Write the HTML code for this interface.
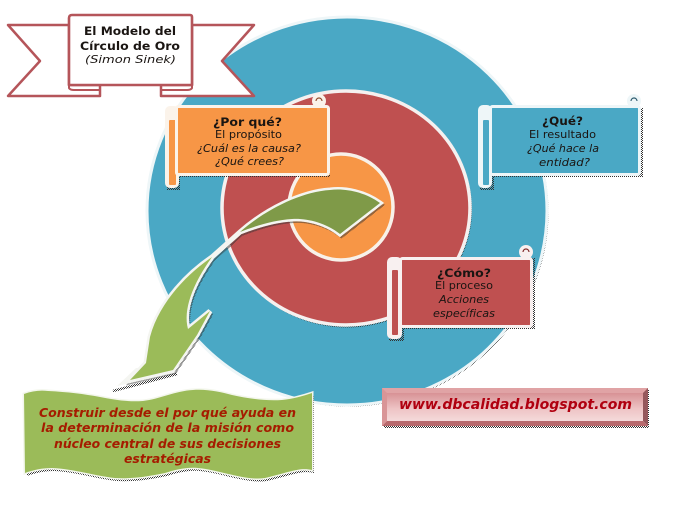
<!DOCTYPE html>
<html lang="es">
<head>
<meta charset="utf-8">
<title>El Modelo del Círculo de Oro</title>
<style>
html,body{margin:0;padding:0;background:#fff;width:679px;height:509px;overflow:hidden}
svg{display:block}
text{font-family:"DejaVu Sans","Liberation Sans",sans-serif;text-anchor:start;fill:#1a1512}
.h{font-weight:bold;font-size:11.5px}
.n{font-size:11px}
.i{font-size:11px;font-style:italic}
.g{font-weight:bold;font-style:italic;font-size:12px;fill:#a51c00}
</style>
</head>
<body>
<svg width="679" height="509" viewBox="0 0 679 509" xmlns="http://www.w3.org/2000/svg">
<defs>
<pattern id="ch" width="2" height="2" patternUnits="userSpaceOnUse">
<rect width="1" height="1" fill="#333"/>
<rect x="1" y="1" width="1" height="1" fill="#333"/>
</pattern>
<linearGradient id="u" x1="0" y1="0" x2="0" y2="1">
<stop offset="0" stop-color="#d08286"/>
<stop offset=".55" stop-color="#eec4c5"/>
<stop offset="1" stop-color="#f7e3e3"/>
</linearGradient>
<path id="arrow" d="M380 203C365 192 345 188 330 190C300 192 265 210 240 232L212 257C190 272 160 300 150 337L146 363L130 380L173 370L197 335L210 311L188 329C183 310 192 285 212 257L240 232C258 225 275 220 292 219C305 218 325 222 340 234Z"/>
<path id="wave" d="M24 394C32 391 40 390 48 391C68 392 84 394 100 397C115 400 128 402 143 401C160 399 175 391 193 390C208 389 220 392 232 395C250 399 266 401 282 400C293 399 303 396 312 393L312 470C300 467 290 472 265 478C245 481 220 470 198 468C185 467 175 470 165 473C150 476 135 479 115 478C95 476 75 469 52 468C42 468 33 470 25 473Z"/>
</defs>

<!-- Target circles -->
<ellipse cx="348.500" cy="212.500" rx="200" ry="194" fill="url(#ch)"/>
<ellipse cx="347" cy="211" rx="200" ry="194" fill="#4aa8c5" stroke="#eef6f8" stroke-width="3"/>
<ellipse cx="347" cy="209.500" rx="125" ry="118" fill="url(#ch)"/>
<ellipse cx="346" cy="208" rx="124" ry="117" fill="#bf5050" stroke="#f5f0ef" stroke-width="3.500"/>
<ellipse cx="342" cy="208.500" rx="52" ry="53" fill="url(#ch)"/>
<ellipse cx="341" cy="207" rx="52" ry="53" fill="#f79646" stroke="#f8f1e9" stroke-width="3.500"/>

<!-- Ribbon banner -->
<path d="M69 25H8L40 61L8 96H100V85H69Z" fill="#fff" stroke="#b5555a" stroke-width="2.500" stroke-linejoin="round"/>
<path d="M192 25H254L222 61L254 96H161V85H192Z" fill="#fff" stroke="#b5555a" stroke-width="2.500" stroke-linejoin="round"/>
<path d="M69 85V88Q70 90 74 90H100" fill="none" stroke="#b5555a" stroke-width="2"/>
<path d="M192 85V88Q191 90 187 90H161" fill="none" stroke="#b5555a" stroke-width="2"/>
<path d="M72 15H190Q192 15 192 17V85H69V18Q69 15 72 15Z" fill="#fff" stroke="#b5555a" stroke-width="2.600" stroke-linejoin="round"/>
<text class="h" x="84" y="35" textLength="92" lengthAdjust="spacingAndGlyphs">El Modelo del</text>
<text class="h" x="80" y="50" textLength="100" lengthAdjust="spacingAndGlyphs">Círculo de Oro</text>
<text class="i" x="85" y="63" textLength="91" lengthAdjust="spacingAndGlyphs">(Simon Sinek)</text>

<!-- Por qué scroll -->
<g>
<path d="M167 190H180V177H330V108L167 108Z" fill="url(#ch)"/>
<rect x="165" y="106" width="14" height="82" rx="5" fill="#fbf3ea"/>
<rect x="169" y="120" width="7" height="65" rx="1" fill="#f79646"/>
<circle cx="319" cy="101" r="7" fill="#fbf3ea"/>
<path d="M316 101a3 3 0 0 1 6 0" fill="none" stroke="#8f4a2b" stroke-width="1.200"/>
<rect x="176.500" y="106.500" width="152" height="68" rx="2" fill="#f79646" stroke="#fbf3ea" stroke-width="3"/>
</g>
<text class="h" x="213" y="126" textLength="69" lengthAdjust="spacingAndGlyphs">¿Por qué?</text>
<text class="n" x="215" y="138" textLength="67" lengthAdjust="spacingAndGlyphs">El propósito</text>
<text class="i" x="197" y="152" textLength="104" lengthAdjust="spacingAndGlyphs">¿Cuál es la causa?</text>
<text class="i" x="215" y="165" textLength="69" lengthAdjust="spacingAndGlyphs">¿Qué crees?</text>

<!-- Qué scroll -->
<g>
<path d="M480 190H494V177H643V108L480 108Z" fill="url(#ch)"/>
<rect x="478" y="105" width="14" height="83" rx="5" fill="#eef6f8"/>
<rect x="483" y="120" width="6" height="65" rx="1" fill="#4aa8c5"/>
<circle cx="634" cy="101" r="7" fill="#eef6f8"/>
<path d="M631 101a3 3 0 0 1 6 0" fill="none" stroke="#2f5d70" stroke-width="1.200"/>
<rect x="490.500" y="106.500" width="149" height="68" rx="2" fill="#4aa8c5" stroke="#eef6f8" stroke-width="3"/>
</g>
<text class="h" x="542" y="125" textLength="41" lengthAdjust="spacingAndGlyphs">¿Qué?</text>
<text class="n" x="529" y="138" textLength="67" lengthAdjust="spacingAndGlyphs">El resultado</text>
<text class="i" x="527" y="152" textLength="72" lengthAdjust="spacingAndGlyphs">¿Qué hace la</text>
<text class="i" x="539" y="166" textLength="51" lengthAdjust="spacingAndGlyphs">entidad?</text>

<!-- Cómo scroll -->
<g>
<path d="M389 341H404V329H535V258L389 258Z" fill="url(#ch)"/>
<rect x="387" y="257" width="15" height="82" rx="5" fill="#f8f0f0"/>
<rect x="392" y="270" width="6" height="65" rx="1" fill="#bf5050"/>
<circle cx="526" cy="252" r="7" fill="#f8f0f0"/>
<path d="M523 252a3 3 0 0 1 6 0" fill="none" stroke="#7f2b2b" stroke-width="1.200"/>
<rect x="400.500" y="258.500" width="131" height="68" rx="2" fill="#bf5050" stroke="#f8f0f0" stroke-width="3"/>
</g>
<text class="h" x="437" y="277" textLength="54" lengthAdjust="spacingAndGlyphs">¿Cómo?</text>
<text class="n" x="435" y="289" textLength="58" lengthAdjust="spacingAndGlyphs">El proceso</text>
<text class="i" x="439" y="303" textLength="50" lengthAdjust="spacingAndGlyphs">Acciones</text>
<text class="i" x="433" y="317" textLength="62" lengthAdjust="spacingAndGlyphs">específicas</text>

<!-- Curved arrow -->
<use href="#arrow" transform="translate(1.500 2)" fill="url(#ch)" stroke="url(#ch)" stroke-width="4" stroke-linejoin="miter" stroke-miterlimit="5"/>
<path d="M113 391L177 374" fill="none" stroke="url(#ch)" stroke-width="2.500"/>
<path d="M117 386L136 368L176 366L174 373Z" fill="#f4f5f1"/>
<use href="#arrow" fill="#f4f5f1" stroke="#f4f5f1" stroke-width="5" stroke-linejoin="miter" stroke-miterlimit="5"/>
<path d="M380 203C365 192 345 188 330 190C300 192 265 210 240 232C258 225 275 220 292 219C305 218 325 222 340 234Z" fill="#7f9a48"/>
<path d="M212 257C190 272 160 300 150 337L146 363L130 380L173 370L197 335L210 311L188 329C183 310 192 285 212 257Z" fill="#9bbb59"/>

<!-- Green wavy banner -->
<use href="#wave" transform="translate(2 3)" fill="url(#ch)"/>
<use href="#wave" fill="#f3f6ec" stroke="#f3f6ec" stroke-width="3"/>
<use href="#wave" fill="#9bbb59"/>
<text class="g" x="39" y="417" textLength="257" lengthAdjust="spacingAndGlyphs">Construir desde el por qué ayuda en</text>
<text class="g" x="41" y="432" textLength="253" lengthAdjust="spacingAndGlyphs">la determinación de la misión como</text>
<text class="g" x="54" y="448" textLength="227" lengthAdjust="spacingAndGlyphs">núcleo central de sus decisiones</text>
<text class="g" x="124" y="463" textLength="87" lengthAdjust="spacingAndGlyphs">estratégicas</text>

<!-- URL box -->
<rect x="384" y="390" width="265" height="38" fill="url(#ch)"/>
<rect x="382" y="388" width="266" height="38" fill="url(#u)"/>
<path d="M382 388H648L643 393H387V421L382 426Z" fill="#e0a3a5"/>
<path d="M648 388V426L643 421V393Z" fill="#95585c"/>
<path d="M382 426H648L643 421H387Z" fill="#b96a6e"/>
<path d="M382 388V426L387 421V393Z" fill="#d99597"/>
<text x="399" y="409" textLength="233" lengthAdjust="spacingAndGlyphs" style="font-weight:bold;font-style:italic;font-size:14px;fill:#b00010">www.dbcalidad.blogspot.com</text>
</svg>
</body>
</html>
